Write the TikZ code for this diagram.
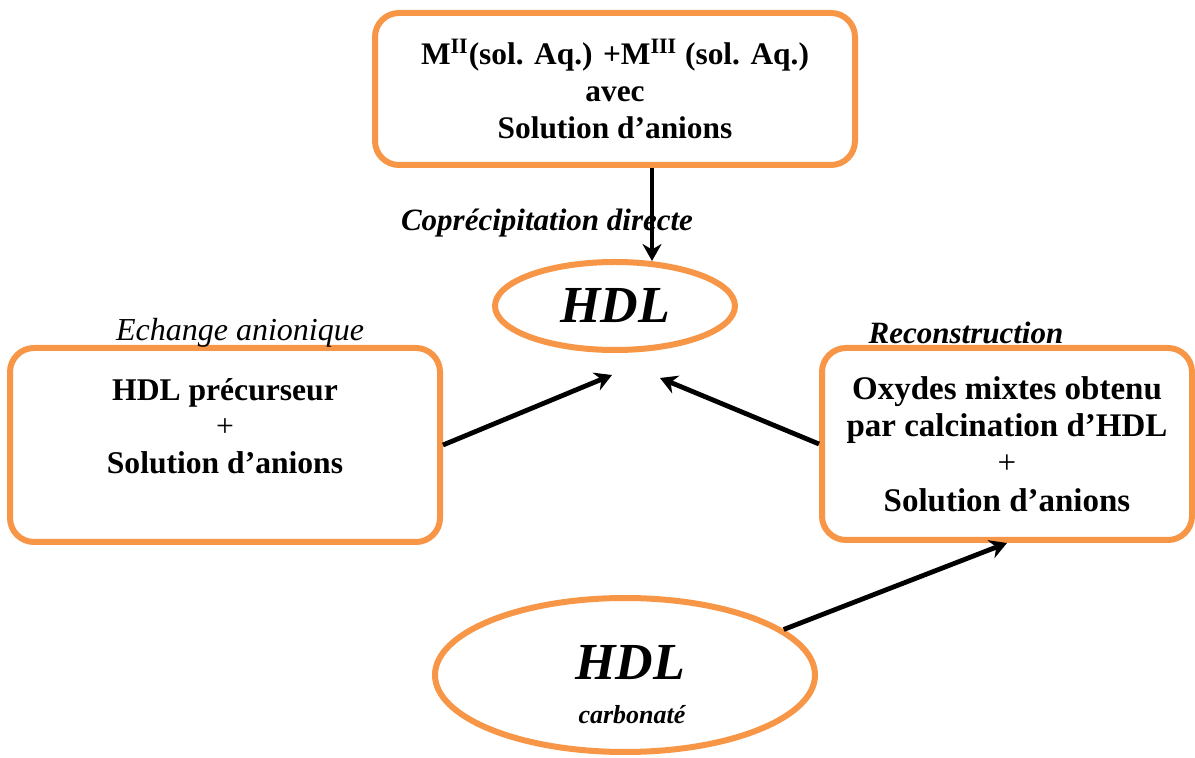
\documentclass[tikz,border=0pt]{standalone}
\usepackage{fontspec}
\setmainfont{Liberation Serif}
\usetikzlibrary{positioning,arrows.meta,calc,shapes.geometric}
\definecolor{hdlorange}{HTML}{F79646}
\tikzset{
  procbox/.style={draw=hdlorange, line width=3pt, rounded corners=12pt, align=center,
    fill=white, inner sep=0pt},
  hdlell/.style={ellipse, draw=hdlorange, line width=3pt, inner sep=0pt, align=center, fill=white},
  procarrow/.style={-{Stealth[length=8.5pt,width=9.5pt]}, line width=2.4pt},
  routelabel/.style={font=\fontsize{15.5}{18}\selectfont\bfseries\itshape},
}

\begin{document}
\begin{tikzpicture}[x=0.5pt,y=-0.5pt]
  \useasboundingbox (0,0) rectangle (1195,758);
  \node[procbox, minimum width=240pt, minimum height=76pt, font=\fontsize{15.7}{18.5}\selectfont\bfseries] (sol) at (615,89) {M\textsuperscript{II}(sol. Aq.) +M\textsuperscript{III} (sol. Aq.)\\avec\\Solution d’anions};
  \node[hdlell, minimum width=120pt, minimum height=44pt, font=\fontsize{26}{30}\selectfont\bfseries\itshape] (hdl) at (615,306) {HDL};
  \node[procbox, minimum width=215pt, minimum height=97pt] (ech) at (225,445) {};
  \node[align=center, font=\fontsize{15.8}{18.3}\selectfont\bfseries] (echtext) at (225,426) {HDL précurseur\\{\mdseries +}\\Solution d’anions};
  \node[procbox, minimum width=185pt, minimum height=96pt, font=\fontsize{16.5}{18.7}\selectfont\bfseries] (oxy) at (1007,444) {Oxydes mixtes obtenu\\par calcination d’HDL\\{\mdseries +}\\Solution d’anions};
  \node[hdlell, minimum width=190pt, minimum height=77pt, font=\bfseries\itshape] (carb) at (625,675) {};
  \node[font=\fontsize{26}{30}\selectfont\bfseries\itshape] (carbhdl) at (630,663) {HDL};
  \node[font=\fontsize{13}{15}\selectfont\bfseries\itshape] (carbtext) at (632,715) {carbonaté};
  \node[routelabel] (coprlab) at (547,223) {Coprécipitation directe};
  \node[font=\fontsize{16}{18}\selectfont\itshape] (echlab) at (240,333) {Echange anionique};
  \node[routelabel] (reclab) at (966,333) {Reconstruction};
  \draw[procarrow] ($(sol.south)+(37,0)$) -- ($(hdl.north)+(37,2)$);
  \draw[procarrow] (ech.east) -- ($(hdl.south)+(-3,22)$);
  \draw[procarrow] (oxy.west) -- ($(hdl.south)+(45,25)$);
  \draw[procarrow] (carb.16) -- (oxy.south);
\end{tikzpicture}
\end{document}
